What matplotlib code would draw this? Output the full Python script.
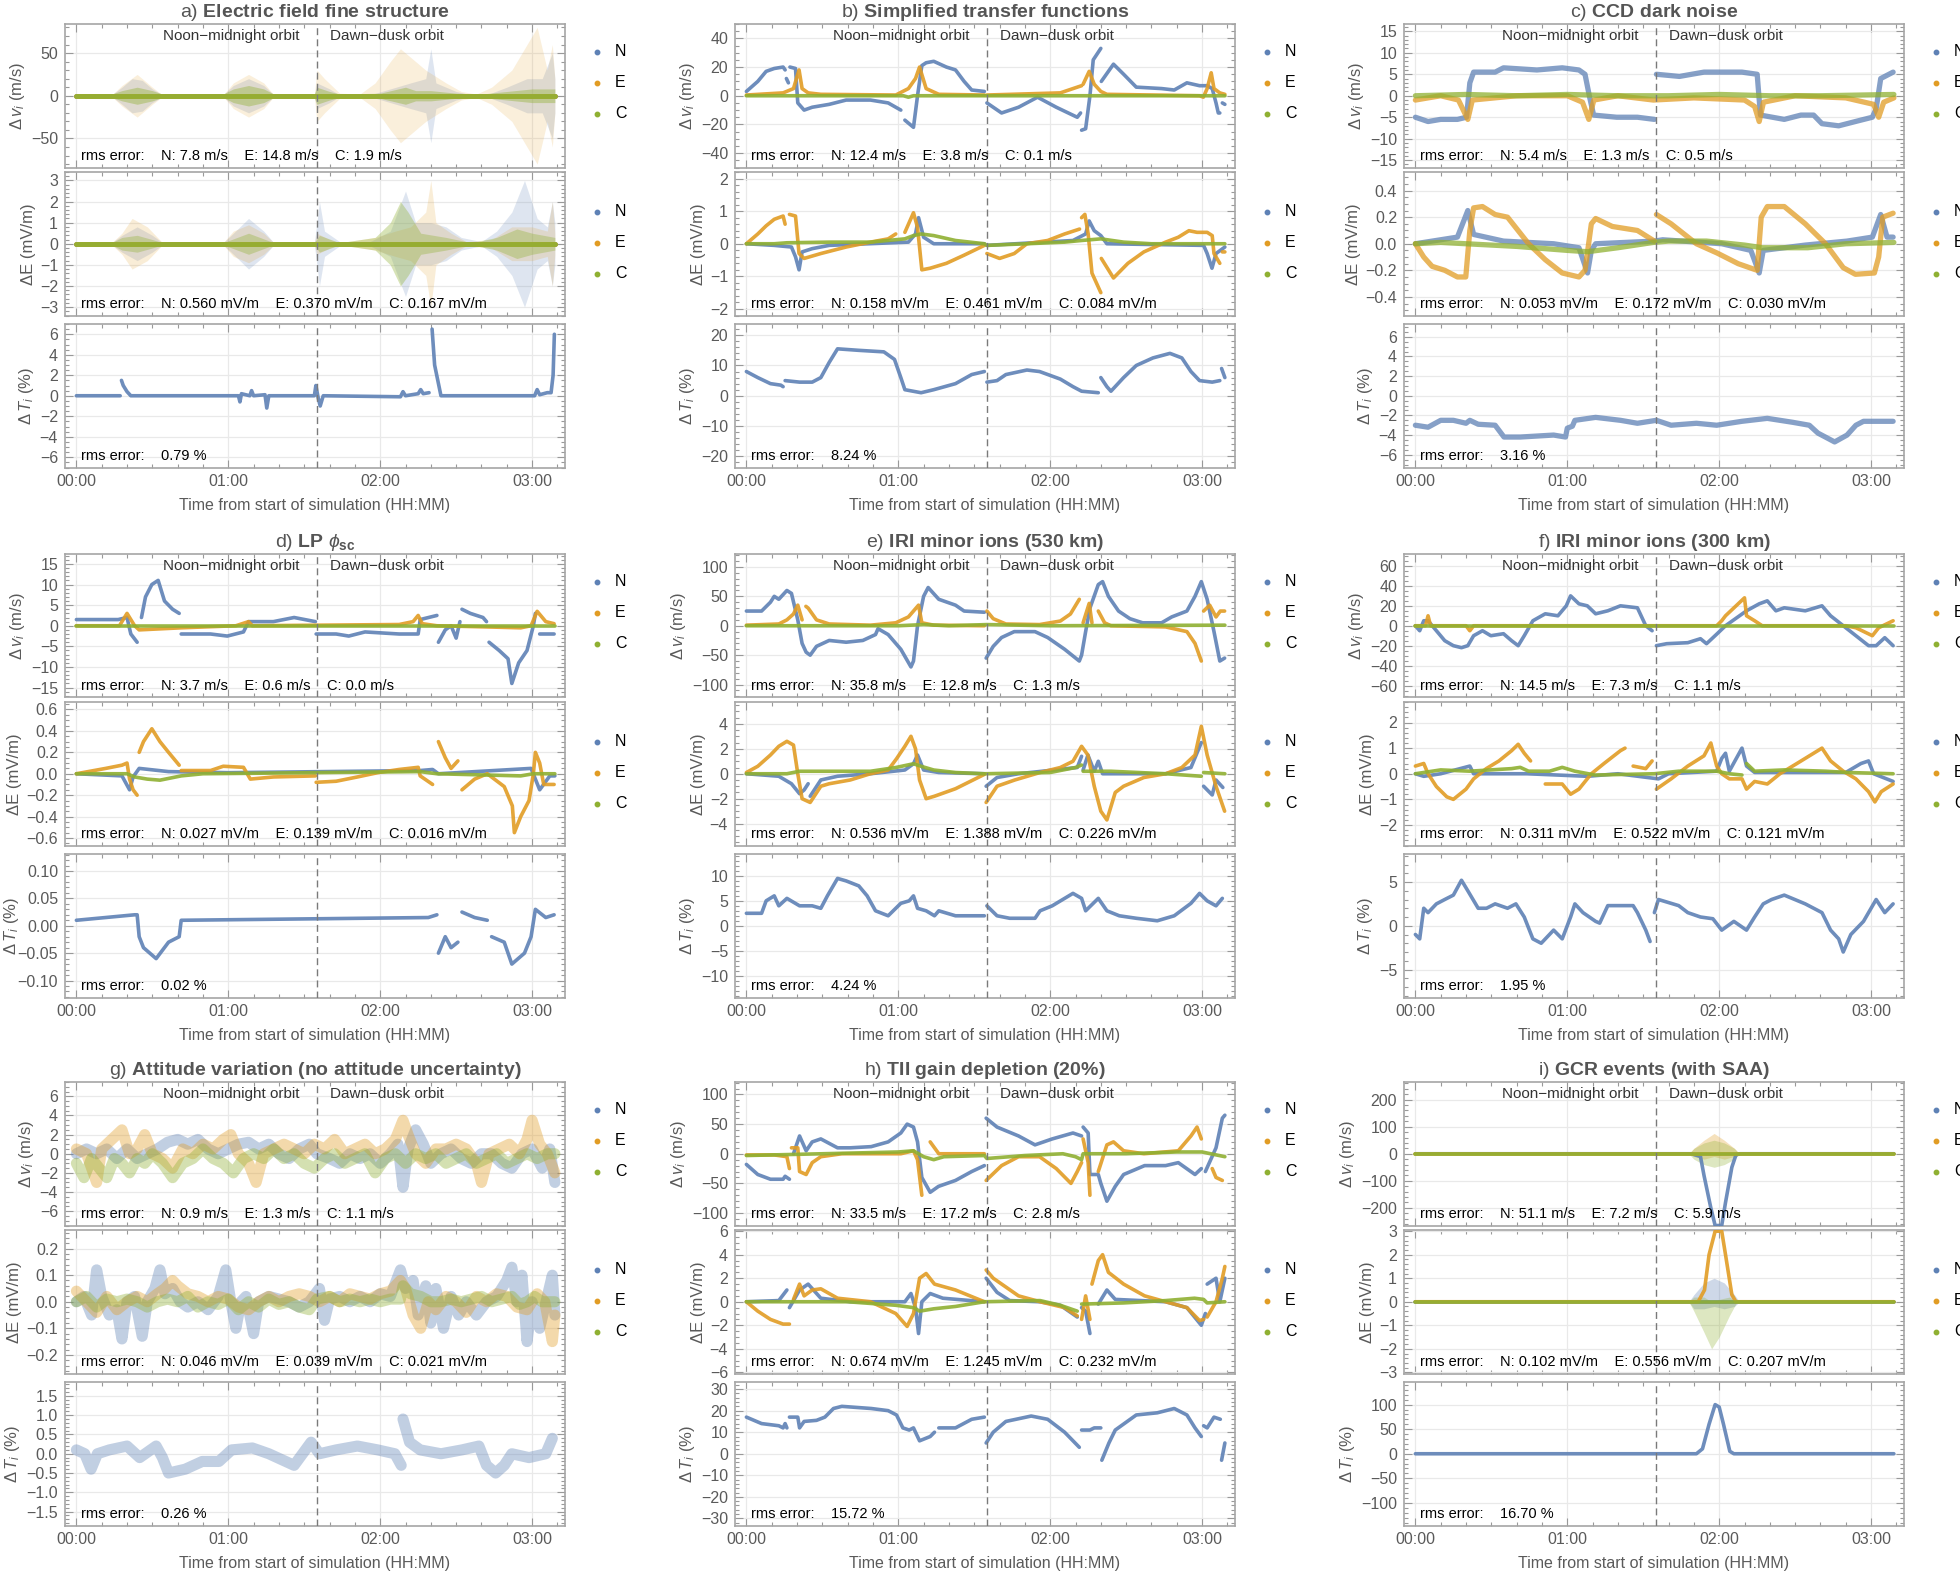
import numpy as np
import matplotlib
matplotlib.use("Agg")
import matplotlib.pyplot as plt
from matplotlib.ticker import MultipleLocator, FuncFormatter

plt.rcParams["font.family"] = ["Liberation Sans", "DejaVu Sans"]
plt.rcParams["mathtext.fontset"] = "custom"
plt.rcParams["mathtext.rm"] = "Liberation Sans"
plt.rcParams["mathtext.it"] = "Liberation Sans:italic"
plt.rcParams["mathtext.bf"] = "Liberation Sans:bold"

nan = np.nan
BLUE, ORANGE, GREEN = "#5e81b5", "#e19c24", "#8fb032"
DASH_T = 95  # switch from noon-midnight to dawn-dusk orbit (minutes)

# ---------------- data: (minute, value), nan = gap ----------------
# a) Electric field fine structure (noise envelopes: (minute, half width))
a_v_N_env = [(0, 1), (14, 1), (18, 10), (22, 20), (26, 18), (30, 8), (34, 1), (58, 1), (62, 12), (68, 20), (74, 12),
             (78, 1), (94, 1), (95, 15), (100, 8), (104, 1), (116, 1), (124, 8), (132, 15), (138, 20), (140, 55),
             (142, 15), (150, 5), (156, 1), (162, 1), (170, 10), (178, 20), (184, 20), (188, 50), (189, 20)]
a_v_E_env = [(0, 1), (14, 1), (18, 12), (24, 25), (30, 10), (34, 1), (58, 1), (62, 15), (68, 25), (74, 15), (78, 1),
             (94, 1), (95, 30), (98, 20), (104, 3), (112, 2), (118, 15), (124, 40), (128, 55), (132, 45), (138, 30),
             (146, 15), (152, 5), (158, 2), (164, 10), (172, 30), (178, 60), (182, 80), (186, 30), (188, 60), (189, 20)]
a_v_C_env = [(0, 2), (14, 2), (18, 6), (24, 10), (30, 6), (34, 2), (58, 2), (62, 8), (68, 12), (74, 8), (78, 2),
             (94, 2), (95, 10), (100, 5), (104, 2), (120, 3), (130, 10), (134, 6), (140, 6), (150, 3), (160, 2),
             (170, 5), (180, 8), (189, 8)]
a_E_N_env = [(0, .05), (14, .05), (18, .4), (24, .8), (30, .4), (34, .05), (58, .05), (62, .5), (68, 1.2), (74, .6),
             (78, .05), (94, .05), (95, 1), (96, 2), (98, .6), (104, .1), (116, .1), (124, .6), (130, 2.5), (134, 1),
             (140, 1), (146, .8), (152, .3), (160, .1), (166, .6), (172, 1.5), (177, 3), (182, 1.2), (186, .8),
             (188, 2), (189, 1)]
a_E_E_env = [(0, .05), (14, .05), (18, .5), (22, 1.2), (28, .8), (34, .05), (58, .05), (62, .6), (68, .9), (74, .5),
             (78, .05), (94, .05), (95, .5), (100, .2), (104, .05), (118, .3), (126, .6), (132, .8), (138, 1.5),
             (140, 3), (142, 1), (148, .5), (154, .1), (164, .2), (172, .8), (180, .8), (186, .6), (188, 2), (189, .5)]
a_E_C_env = [(0, .05), (14, .05), (18, .3), (24, .4), (30, .2), (34, .05), (58, .05), (68, .5), (78, .05), (94, .05),
             (96, .4), (104, .05), (118, .3), (124, 1), (128, 2), (131, 1.5), (136, .5), (146, .3), (156, .05),
             (166, .3), (174, .7), (180, .5), (189, .3)]
a_zero = [(0, 0), (189, 0)]
a_T_N = [(0, 0), (17.3, 0), (17.3, nan), (17.8, 1.5), (18.5, 1.0), (20, 0.4), (21.5, 0), (64, 0), (64.6, -0.6),
         (65.2, 0.2), (68.5, 0), (69.2, 0.5), (70, 0), (74.5, 0.1), (75.2, -1.2), (76, 0), (94, 0), (94.6, 1.0),
         (95.5, -0.2), (96.3, -1.0), (97.5, 0), (128, -0.1), (129, 0.4), (130, 0), (135, 0.2), (136, 0.6), (137, 0.2),
         (139.3, 0.3), (139.3, nan), (140.5, 6.5), (141.5, 3), (142.5, 1.8), (144, 0), (181, 0), (182, 0.6),
         (183, 0.1), (186, 0.3), (187.5, 0.3), (188.3, 2), (188.8, 6)]

# b) Simplified transfer functions
b_v_N = [(0, 3), (4.5, 10), (7.8, 17), (11, 19), (14.5, 20), (15.3, 18), (15.6, nan), (15.8, 12), (16.6, 9),
         (17, nan), (17.2, 20), (19.4, 19), (20.3, -5), (22.8, -10), (26, -8), (32.7, -6), (39.4, -3), (49, -3),
         (56, -5), (59, -8), (61, -10), (61.5, nan), (62.6, -17), (66, -22), (67.6, 0), (69.3, 21), (71, 23),
         (74, 24), (79, 20), (82.6, 18), (86, 10), (89, 4), (94, 3), (94.5, nan), (95, -5), (100.8, -12),
         (107.5, -8), (115, -1), (122.4, -8), (130.7, -15), (132, -12), (132.2, nan), (132.4, -24), (134, -23),
         (135.7, 0), (137, 25), (140, 33), (140.1, nan), (140.2, 10), (145, 22), (149, 15), (154, 6), (164, 5),
         (169, 4), (174, 9), (179, 7), (182, 7), (184, 5), (185.5, -5), (186.4, -12), (187, -12), (187.4, nan),
         (188, -5), (189, -6)]
b_v_E = [(0, 0.5), (14.5, 2), (18.6, 5), (20.8, 18), (22, 5), (24.4, 2), (29.4, 1), (59, 0.5), (64, 5), (66.8, 12),
         (68.4, 20), (71, 5), (76, 1), (94, 0.5), (94.5, nan), (95, 0.5), (124, 2), (130.7, 6), (132.4, 7),
         (132.6, nan), (133, 8), (135.4, 17), (137.4, 8), (140, 3), (142.4, 1), (179, 0), (180.5, -1), (182, 5),
         (183.6, 16), (184.7, 5), (187, 2), (189, 1)]
b_v_C = [(0, 0), (62, 0), (64, -1), (66, 0), (189, 0)]
b_E_N = [(0, 0), (11, -0.05), (17.8, -0.1), (19.4, -0.4), (20.8, -0.8), (22, -0.25), (26, -0.15), (32.7, -0.05),
         (64, 0.05), (66.8, 0.3), (68, 0.8), (70, 0.2), (74, 0), (94, 0), (94.5, nan), (95, -0.05), (129, 0.1),
         (134, 0.3), (135.4, 0.7), (137.4, 0.4), (140, 0.25), (142.4, 0), (180.6, -0.05), (182, -0.3),
         (183.9, -0.75), (185.5, -0.3), (189, -0.1)]
b_E_E = [(0, 0), (4.5, 0.3), (7.8, 0.55), (11, 0.75), (14.5, 0.85), (15.3, 0.6), (15.6, nan), (16, 0.55),
         (16.6, nan), (17, 0.9), (19.4, 0.85), (20.8, -0.3), (22.8, -0.45), (29.4, -0.3), (39.4, -0.1), (49, 0.05),
         (56, 0.15), (59, 0.3), (60, nan), (62.6, 0.35), (66, 0.95), (67.6, 0.5), (69.3, -0.8), (72.6, -0.75),
         (79, -0.6), (86, -0.35), (94, -0.05), (94.5, nan), (95, -0.3), (100, -0.45), (105.8, -0.3), (110.8, 0),
         (119, 0.1), (125.7, 0.3), (131.6, 0.45), (132, nan), (132.4, 0.8), (133.7, 0.9), (135, 0.3),
         (136.5, -0.9), (140, -1.5), (140.1, nan), (140.2, -0.45), (145, -1.05), (150.7, -0.6), (157, -0.25),
         (165.6, 0.05), (170.6, 0.2), (174.8, 0.4), (178, 0.35), (182, 0.35), (184, 0.25), (184.7, -0.3),
         (187, -0.6), (187.4, nan), (188, -0.25), (189, -0.25)]
b_E_C = [(0, 0), (11, 0), (16, 0.03), (32.7, 0.05), (49, 0.05), (62.6, 0.15), (66, 0.25), (69, 0.3), (74, 0.25),
         (82.6, 0.1), (94, 0), (95, -0.05), (110.8, 0), (125.7, 0.05), (132.4, 0.1), (140, 0.15), (149, 0.05),
         (160, 0), (189, 0)]
b_T_N = [(0, 8), (4.5, 6), (9.5, 4), (13.6, 3.5), (14.5, 3), (14.8, nan), (15.3, 5), (21, 4.5), (26, 4.5),
         (29.4, 6), (32.7, 11), (36, 15.5), (44.4, 15), (54.3, 14.5), (58.5, 12), (61, 6), (62.6, 2), (69, 1),
         (74, 2), (82.6, 4), (89, 7), (94, 8), (94.5, nan), (95, 4.5), (99, 5), (102.5, 7), (110.8, 8.5),
         (115.8, 8), (124, 5.5), (129, 3), (132.4, 1.5), (139, 1), (139.5, nan), (140, 6), (142.4, 3), (144, 1.5),
         (149, 6), (154, 10), (160.6, 12.5), (167.3, 14), (172, 12.5), (175.6, 8), (179, 5), (184, 4.5), (187, 5),
         (187.3, nan), (187.7, 9), (189, 6)]

# c) CCD dark noise
c_v_N = [(0, -5), (5, -6), (10, -5.5), (16.6, -5.5), (20.2, -5), (21.5, 3), (23, 5.5), (31.5, 5.5), (34.8, 6.5),
         (48, 6), (58, 6.5), (64.6, 6), (67, 5), (68.7, 0), (70.4, -4.5), (79.5, -5), (87.7, -5), (94.4, -5.5),
         (94.8, nan), (95.2, 5), (104.3, 4.5), (114, 5.5), (129, 5.5), (135, 5), (136.3, -4.5), (145.7, -5.5),
         (152.3, -4.5), (157.3, -4.5), (160.6, -6.5), (167.2, -7), (173.8, -6), (180.5, -5), (182, -3), (183.8, 4),
         (188.7, 5.5)]
c_v_E = [(0, -1), (10, 0), (17, -1), (20.7, -5.5), (22.5, -1), (40, 0), (60, 0), (66, -1.5), (68.5, -5.5),
         (70.5, -1), (80, 0), (94, -1), (110, -0.5), (130, -1), (134, -2.5), (135.8, -6), (137.5, -1.5), (150, 0),
         (170, -0.5), (181, -2), (183, -5), (185, -1.5), (189, -0.5)]
c_v_C = [(0, 0), (20, 0.3), (40, 0), (60, 0.3), (80, 0), (100, 0), (120, 0.3), (140, 0), (160, 0), (189, 0.3)]
c_E_N = [(0, 0), (16.6, 0.05), (20.7, 0.25), (23, 0.07), (34.8, 0.02), (54.6, 0), (64.6, -0.03), (68, -0.22),
         (69.5, -0.05), (71.2, 0), (94.4, 0.02), (97.7, 0.03), (121, 0), (132.5, -0.05), (135.8, -0.22),
         (137.4, -0.05), (154, -0.01), (170.5, 0.02), (180.5, 0.05), (183.8, 0.22), (186.3, 0.05), (188.7, 0.05)]
c_E_E = [(0, 0), (3.3, -0.1), (6.6, -0.17), (11.6, -0.2), (16.6, -0.25), (19.9, -0.25), (21.5, 0.1), (23, 0.27),
         (26.5, 0.28), (31.5, 0.22), (36.4, 0.2), (44.7, 0), (51.3, -0.12), (58, -0.22), (64.6, -0.25), (67, -0.2),
         (69.5, 0.15), (71.2, 0.19), (77.8, 0.13), (87.7, 0.1), (94.4, 0.02), (94.8, nan), (95.2, 0.22),
         (101, 0.15), (111, 0), (119.2, -0.07), (127.5, -0.15), (135, -0.2), (136.6, 0.2), (139, 0.28),
         (145.7, 0.28), (154, 0.15), (162, 0), (169, -0.18), (173.8, -0.23), (181.3, -0.22), (183, -0.1),
         (184.6, 0.2), (188.7, 0.23)]
c_E_C = [(0, 0), (10, 0.01), (20, 0), (40, -0.02), (60, -0.05), (68, -0.06), (80, -0.03), (94, 0.01), (100, 0.02),
         (115, 0.02), (130, -0.01), (137, -0.03), (155, -0.03), (170, 0), (189, 0.01)]
c_T_N = [(0, -3), (5, -3.2), (10, -2.5), (15, -2.5), (20, -2.8), (21.5, -2.5), (24.8, -2.9), (31.5, -3), (35, -4.2),
         (41.4, -4.2), (54.6, -4), (59.3, -4.2), (60, -3.3), (62, -3.1), (63, -2.5), (71.2, -2.2), (81, -2.5),
         (87.7, -2.8), (95.2, -2.5), (101, -3), (111, -2.8), (119, -3), (129, -2.6), (139, -2.3), (149, -2.7),
         (155.6, -3), (159, -3.8), (165.6, -4.7), (170.5, -4), (174, -3), (177, -2.6), (188.7, -2.6)]

# d) LP phi_sc
d_v_N = [(0, 1.5), (16.5, 1.5), (20, 2), (21.5, -2), (24, -4), (24.5, nan), (25.7, 2), (27.3, 7), (29.8, 10),
         (32.3, 11), (34.8, 6), (38, 4), (40.6, 3), (41, nan), (41.4, -2), (53, -2), (59.6, -2.5), (66, -1.5),
         (68, 1), (77.8, 1), (86, 2), (94.4, 1), (94.6, nan), (94.7, -2), (102.6, -2), (107.6, -2.5), (114, -1.5),
         (127.5, -2), (135, -2), (135.8, 1.5), (142.4, 2.5), (142.7, nan), (143, -4), (145.7, -1), (148, 0),
         (150, -3), (151.5, 1), (152, nan), (152.3, 4), (155.6, 3), (160.6, 2), (162, 1), (162.5, nan), (163, -4),
         (167, -6), (170.5, -8), (172, -14), (174.7, -9), (178, -6), (180.5, 0), (181.3, 3), (182, nan),
         (183, -2), (188.7, -2)]
d_v_E = [(0, 0), (17, 0), (20, 3), (23, 0), (24.8, -1), (41.4, -0.5), (63, 0), (68, 1), (69.5, 0), (127.5, 0.3),
         (133, 1), (135, 2.5), (136.6, 0.5), (142.4, 0), (163, -0.3), (175.5, -0.5), (179.6, 0), (182, 3.5),
         (185.4, 1), (188.7, 0.5)]
d_v_C = [(0, 0), (189, 0)]
d_E_N = [(0, 0), (18, -0.02), (21, -0.15), (22.4, -0.03), (24.8, 0.05), (36.4, 0.02), (60, 0.01), (135.8, 0.03),
         (140.7, 0.04), (143, 0), (179.6, 0.05), (183, -0.15), (187, -0.02), (189, -0.02)]
d_E_E = [(0, 0), (11.6, 0.05), (18, 0.08), (20, 0.1), (21, -0.05), (22.4, -0.15), (24, -0.2), (24.4, nan),
         (24.8, 0.2), (26.5, 0.3), (29.8, 0.42), (33, 0.3), (36.4, 0.2), (40.6, 0.08), (41, nan), (41.4, 0.03),
         (53, 0.03), (58, 0.07), (66, 0.06), (68.7, -0.05), (77.8, -0.03), (94.4, -0.02), (94.6, nan),
         (94.7, -0.08), (102.6, -0.07), (111, -0.03), (119, 0.01), (127.5, 0.04), (135, 0.06), (135.8, -0.02),
         (140.7, -0.1), (142, nan), (143, 0.3), (145.7, 0.15), (148, 0.05), (150.7, 0.12), (151.5, nan),
         (152.3, -0.15), (157.3, -0.05), (162.3, 0), (169, -0.12), (172.2, -0.3), (173, -0.55), (175.5, -0.4),
         (178.8, -0.25), (180.5, 0), (181.3, 0.2), (183, 0.1), (184.6, -0.1), (188.7, -0.1)]
d_E_C = [(0, 0), (20, 0), (23, -0.03), (28, -0.05), (33, -0.06), (41.4, -0.02), (50, 0), (135.8, 0.02),
         (142.4, 0), (175.5, -0.02), (180.5, 0), (189, 0)]
d_T_N = [(0, 0.01), (23, 0.02), (24, 0.02), (24.8, -0.02), (26.5, -0.04), (31.5, -0.06), (36.4, -0.03),
         (40.6, -0.02), (41.4, 0.01), (139, 0.015), (142.4, 0.02), (142.7, nan), (143, -0.05), (145.7, -0.02),
         (148, -0.04), (150.7, -0.03), (151.5, nan), (152.3, 0.025), (157.3, 0.015), (162.3, 0.01), (163, nan),
         (164, -0.02), (169, -0.03), (172, -0.07), (177, -0.05), (179.6, -0.02), (181.3, 0.03), (185.4, 0.015),
         (188.7, 0.02)]

# e) IRI minor ions (530 km)
e_v_N = [(0, 25), (6, 25), (9.5, 40), (11, 50), (12.8, 45), (16, 60), (17.8, 55), (20.3, 10), (22, -30),
         (23.6, -45), (25.2, -50), (27.7, -35), (32.7, -25), (39.4, -28), (46, -25), (51, -15), (52, -5),
         (56, -15), (61, -40), (65, -70), (66, -60), (67.6, 0), (70, 50), (71.8, 65), (76, 45), (82.6, 35),
         (86, 25), (94, 23), (94.4, nan), (94.7, -55), (97.5, -35), (100.8, -20), (105.8, -10), (114, -10),
         (119, -20), (125.7, -40), (131.5, -60), (132.4, -50), (134, -10), (135.7, 30), (139, 70), (140.7, 75),
         (143, 50), (147, 25), (151.5, 12), (156.5, 5), (164, 5), (168, 15), (174, 25), (177.2, 50), (179.7, 75),
         (182, 45), (184.7, -10), (187, -60), (188.9, -55)]
e_v_E = [(0, 1), (12.8, 3), (16, 10), (18.6, 20), (20.3, 35), (22, 10), (22.5, nan), (23.5, 33), (24.4, 30),
         (27.7, 10), (32.7, 3), (49, 1), (59, 5), (64, 15), (68, 35), (69.3, 5), (74, 1), (94, 0), (94.4, nan),
         (95, 25), (97.5, 12), (102.5, 3), (115.8, 2), (124, 8), (128, 20), (131.5, 45), (132, nan), (133, 5),
         (135.4, 38), (136.5, 5), (137, nan), (139, 25), (141.5, 5), (144, 0), (165.6, -2), (174, -10),
         (177.2, -30), (179.7, -60), (180, nan), (180.6, 25), (183, 35), (185.5, 15), (187.2, 25), (188.9, 25)]
e_v_C = [(0, 0), (60, 0), (70, 2), (80, 0), (95, 2), (120, 0), (189, 1)]
e_E_N = [(0, 0), (12.8, -0.2), (17.8, -0.8), (21, -1.6), (22.8, -1.3), (24.4, -0.8), (24.8, nan), (25.2, -1.8),
         (29.4, -0.5), (36, -0.2), (49, 0), (62.6, 0.3), (66, 0.8), (67.6, 1.5), (70, 0.3), (76, 0.1), (94, 0),
         (94.4, nan), (94.7, -1), (99, -0.3), (107.5, 0), (130.7, 0.5), (132.4, 1.4), (132.7, nan), (133, 0.3),
         (134.9, 1.5), (137.4, 0.2), (139, 1), (140.7, 0), (165.6, 0), (175.6, 0.5), (179.7, 2.5), (180.2, nan),
         (180.6, -1), (184, -1.7), (185.5, -0.5), (188.2, -1.1)]
e_E_E = [(0, 0.1), (4.5, 0.6), (9.5, 1.5), (12.8, 2.2), (16, 2.6), (18.6, 2.3), (20.3, 0), (22, -2),
         (25.2, -2.3), (29.4, -1), (32.7, -0.8), (41, -0.5), (49, 0), (56, 0.3), (59.3, 1.2), (62.6, 2.2),
         (65, 3), (66.8, 2), (68.4, -0.5), (71, -2), (74.3, -1.8), (82.6, -1.2), (94, -0.05), (94.4, nan),
         (94.7, -2.3), (99, -1), (106, -0.5), (116, 0.1), (124, 0.5), (129, 1), (132.4, 2.2), (134.9, 1.5),
         (137.4, -1), (140, -3), (142.4, -3.7), (145.7, -1.5), (149, -1), (157, -0.3), (165.6, 0), (172, 0.5),
         (177.2, 1.5), (179.7, 3.8), (182, 1.5), (185.5, -1), (188.9, -3)]
e_E_C = [(0, 0), (16, 0), (21, 0.2), (49, 0.2), (59, 0.5), (66, 0.8), (69, 0.6), (74, 0.3), (82.6, 0.1), (94, 0),
         (120, 0.1), (130, 0.5), (132.4, 0.7), (132.7, nan), (133, 0.2), (144, 0.2), (165.6, 0), (179.7, -0.2),
         (180.2, nan), (180.6, 0.1), (189, 0)]
e_T_N = [(0, 2.5), (6, 2.5), (7.8, 5), (11, 6), (12.8, 4), (16, 5.5), (21, 4), (26, 4), (29.4, 3.5), (32, 6),
         (36, 9.5), (39.4, 9), (44.4, 8), (47.7, 6), (51, 3), (56, 2), (61, 4.5), (64.3, 5), (66, 6), (67.6, 3.5),
         (71, 3), (74.3, 2), (76, 3), (82.6, 2), (94, 2), (94.4, nan), (95, 4), (99, 2), (104, 1.5), (114, 1.5),
         (116, 3), (120.8, 4), (129, 6.5), (132.4, 5.5), (134, 3), (139, 5.5), (142.4, 3), (147.3, 2),
         (154, 1.5), (162.3, 1), (169, 2), (175.6, 4.5), (179, 6.5), (182, 5), (185.5, 4), (188, 5.5)]

# f) IRI minor ions (300 km)
f_v_N = [(0, 0), (1.7, -5), (3.3, 5), (5, 5), (8.3, -5), (11.6, -15), (15, -20), (18.2, -22), (20.7, -20),
         (23, -10), (26.5, -5), (29.8, -10), (34.8, -8), (38, -15), (40.6, -20), (43, -10), (46.4, 5),
         (51.3, 12), (56.3, 10), (59.6, 20), (61.3, 30), (64.6, 22), (67.9, 20), (71.2, 12), (76, 15), (81, 20),
         (87.7, 18), (91, 0), (93.5, -5), (94.4, nan), (95.2, -20), (99.3, -18), (107.6, -17), (112.6, -13),
         (115, -18), (119.2, -8), (122.5, 0), (130.8, 15), (135.8, 22), (139, 25), (142.4, 15), (145.7, 18),
         (154, 15), (160.6, 20), (164, 10), (169, 0), (174, -10), (179, -20), (182, -20), (185.4, -12),
         (188.7, -20)]
f_v_E = [(0, 0), (4, 0), (5, 10), (6, 0), (20, 0), (21.5, -5), (23, 0), (119, 0), (121, 5), (122.5, 10), (130, 28),
         (130.8, 10), (134, 5), (137, 0), (170, 0), (174, -2), (180.5, -10), (183, -2), (188.7, 5)]
f_v_C = [(0, 0), (189, 0)]
f_E_N = [(0, 0), (3.3, -0.1), (10, 0), (21.5, 0.3), (23, 0), (44, 0), (68, -0.1), (80, 0), (96, -0.2), (100, 0),
         (119, 0.1), (121, 0.6), (122.5, 0.8), (124, 0.1), (129, 1.0), (130.8, 0.3), (134, 0.05), (170, 0.05),
         (176, 0.4), (179, 0.5), (181, 0), (188.7, -0.3)]
f_E_E = [(0, 0.3), (3.3, 0.4), (5, 0), (8.3, -0.5), (12.4, -0.9), (15, -1.0), (20, -0.6), (23, -0.2), (28, 0.2),
         (33, 0.5), (38, 0.9), (40.6, 1.15), (43, 0.8), (45.5, 0.5), (46, nan), (51.3, -0.4), (58, -0.4),
         (61.3, -0.8), (64.6, -0.6), (69.5, 0), (74.5, 0.4), (81, 0.9), (82.8, 1), (83.5, nan), (86, 0.3),
         (91, 0.2), (93.5, 0.5), (94.4, nan), (95.2, -0.6), (101, -0.2), (107.6, 0.3), (114, 0.7), (116.7, 1.2),
         (119, 0.3), (121, 0), (124, -0.2), (129, -0.2), (130.8, -0.6), (134, -0.3), (139, -0.4), (144, 0),
         (150.7, 0.4), (157.3, 0.8), (160.6, 1.0), (164, 0.5), (169, 0.1), (174, -0.2), (179, -0.7),
         (181.5, -1.1), (184, -0.7), (188.7, -0.4)]
f_E_C = [(0, 0), (10, 0.15), (21.5, 0.1), (38, 0.2), (41.4, 0.25), (44.7, 0.1), (53, 0.1), (58, 0.25), (63, 0.1),
         (71, -0.05), (94.4, 0), (104, 0.1), (119, 0.1), (124, 0), (129, -0.05), (130, nan), (130.8, 0.4),
         (134, 0.1), (145.7, 0.15), (162, 0.1), (170.5, 0.05), (188.7, 0)]
f_T_N = [(0, -1), (1.7, -1.5), (3.3, 2), (5, 1.5), (8.3, 2.5), (11.6, 3), (15, 3.5), (18.2, 5.2), (20.7, 4),
         (24.8, 2), (28.1, 2), (31.5, 2.5), (36.4, 2), (39.7, 2.5), (43, 1), (46.4, -1.5), (49.7, -2),
         (54.6, -0.5), (58, -1.5), (61.3, 1), (63, 2.5), (66.2, 1.5), (71.2, 0.5), (72.8, 0.3), (76, 2.3),
         (86, 2.3), (87.7, 1.5), (91, -0.5), (92.7, -1.8), (93.5, nan), (94.4, 1.5), (96, 3), (104, 2.3),
         (107.6, 1.5), (112.6, 1), (117.5, 0.8), (121, -0.5), (125.8, 0.5), (130.8, -0.5), (134, 1),
         (137.4, 2.5), (140.7, 3), (145.7, 3.5), (154, 2.5), (160.6, 1.5), (164, -0.5), (167.2, -1.5),
         (169, -3), (172, -1), (177, 0.5), (182, 3), (185.4, 1.5), (188.7, 2.5)]

# g) Attitude variation (no attitude uncertainty)
g_v_N = [(0, 0), (4, 0.5), (8, 0), (12, 0.5), (16, -0.5), (20, 0.5), (24, -0.5), (28, 0), (32, 0.5), (36, 1.2),
         (40, 1.5), (44, 1), (48, 1.5), (52, 0.5), (56, 0), (60, 0.5), (64, 1), (68, 1.2), (72, 0.5), (76, 1),
         (80, 0), (84, -0.5), (88, 0.5), (92, 1), (95, 0), (100, -0.5), (104, -1), (108, 0), (112, -0.5), (116, 0),
         (120, -1), (124, 0), (127, 1), (129, -3.5), (131, 0.5), (134, 2.5), (137, 1), (140, -1), (144, 0),
         (148, 0.5), (152, -0.5), (156, -1), (160, 0), (164, 0), (168, -1), (172, -1.5), (176, 0), (180, 0.5),
         (184, -1.5), (187, 0.5), (189, -3)]
g_v_E = [(0, 0.5), (4, 0), (8, -3), (10, 0.5), (14, 1.5), (18, 2.5), (21, 0), (24, 0.5), (27, 2), (30, 0),
         (34, -0.5), (38, -1.5), (42, 0.5), (46, 0), (50, 1), (54, 0.5), (58, 1.5), (61, 2), (64, 0), (68, -1),
         (71, -3), (74, 0), (78, 0.5), (82, 1), (86, 0.5), (90, 0), (94, 1), (98, 0.5), (102, 1.5), (106, 0),
         (110, 0.5), (114, 1), (118, 0), (122, 0.5), (126, 1.5), (129, 3.5), (131, 2), (134, 0), (138, -1),
         (142, 0.5), (146, 0.5), (150, 1), (154, 0.5), (158, -1), (160, -3), (163, 0), (167, 0.5), (171, 1),
         (175, 0), (178, 1.5), (180, 3.5), (183, 1), (186, 0), (189, -2)]
g_v_C = [(0, -1), (3, -2.5), (6, -0.5), (9, -1.5), (12, -2.5), (15, -0.5), (18, -1), (21, -2), (24, -0.5),
         (27, -1), (30, 0), (34, -1), (38, -2.5), (42, -1), (46, -0.5), (50, 0.5), (54, -0.5), (58, -1), (62, -2),
         (66, -0.5), (70, 0), (74, -0.5), (78, 0.5), (82, -0.5), (86, 0), (90, -1), (94, -1.5), (98, -0.5),
         (102, 0), (106, -1), (110, -0.5), (114, 0), (118, -2), (122, -0.5), (126, 0), (130, -1), (134, 0),
         (138, -0.5), (142, 0), (146, -1), (150, -0.5), (154, 0), (158, -1), (162, -0.5), (166, 0), (170, -1),
         (174, -0.5), (178, 0), (182, -0.5), (186, 0), (189, 0)]
g_E_N = [(0, 0), (3, 0.02), (6, -0.05), (8, 0.12), (10, 0.02), (13, -0.05), (16, -0.03), (18, -0.14), (20, 0),
         (23, 0.02), (26, -0.13), (28, 0), (31, 0.05), (33, 0.12), (35, 0.03), (38, 0.05), (41, 0), (44, -0.02),
         (48, 0), (52, -0.03), (56, 0.02), (59, 0.12), (61, 0), (63, -0.1), (65, 0), (67, 0.02), (70, -0.12),
         (72, 0), (76, 0.02), (80, 0.01), (84, 0), (88, -0.02), (92, 0), (96, 0.05), (98, -0.07), (100, 0.01),
         (104, 0.02), (108, 0), (112, 0.02), (116, 0), (120, 0.03), (124, 0.02), (128, 0.12), (130, 0.05),
         (133, 0.08), (135, -0.05), (138, 0.06), (140, -0.08), (142, 0.05), (145, -0.1), (148, 0.02), (151, -0.05),
         (154, 0), (158, -0.05), (162, 0), (166, 0.02), (170, 0.08), (172, 0.13), (174, 0), (176, 0.1),
         (178, -0.15), (180, 0), (183, -0.1), (186, 0.02), (188, 0.1), (189, -0.05)]
g_E_E = [(0, 0.04), (4, 0), (8, -0.04), (12, 0.02), (16, -0.03), (20, 0), (24, 0.02), (28, 0), (32, 0.03),
         (35, 0.05), (38, 0.08), (40, 0.06), (44, 0.03), (48, 0.02), (52, 0), (56, 0.02), (60, 0.01), (64, -0.02),
         (68, -0.03), (72, 0), (76, 0.02), (80, 0), (84, 0.02), (88, 0.03), (92, 0.02), (96, 0), (100, 0.02),
         (104, 0), (108, 0.03), (112, 0.02), (116, 0.01), (120, 0.03), (124, 0.04), (128, 0.08), (130, 0.05),
         (133, -0.05), (136, -0.1), (139, 0), (142, -0.03), (146, 0.02), (150, 0), (154, -0.04), (158, 0.02),
         (162, 0), (166, 0.03), (170, 0.02), (174, -0.02), (178, -0.03), (182, 0.03), (185, 0), (188, -0.15),
         (189, -0.05)]
g_E_C = [(0, 0), (4, 0.02), (8, -0.02), (12, 0.01), (16, 0), (20, 0.01), (24, 0), (28, -0.02), (32, 0),
         (36, 0.01), (40, 0), (44, 0.02), (48, -0.02), (52, 0), (56, -0.01), (60, 0.01), (64, -0.03), (68, 0),
         (72, -0.02), (76, 0.01), (80, -0.01), (84, 0), (88, -0.02), (92, -0.03), (95, 0.01), (100, 0.02),
         (104, 0), (108, 0.01), (112, 0), (116, 0.01), (120, 0), (124, 0.01), (128, 0.01), (129, 0.06),
         (132, 0.03), (136, 0.02), (140, 0), (144, 0), (148, 0.01), (152, 0), (156, 0.01), (160, 0.02), (164, 0),
         (168, 0.01), (172, 0.02), (175, -0.01), (178, 0), (181, 0.02), (184, 0), (189, 0)]
g_T_N = [(0, 0.1), (3.3, 0), (5.8, -0.4), (8.3, 0), (13, 0.1), (20, 0.2), (25, -0.1), (31.5, 0.2), (34, -0.1),
         (36.4, -0.5), (43, -0.4), (49.7, -0.2), (56.3, -0.2), (61.3, 0.1), (69.5, 0.15), (76, 0), (86, -0.3),
         (92.7, 0.3), (96, 0), (102.6, 0.1), (111, 0.2), (119, 0.1), (125.8, 0), (128.3, -0.3), (128.6, nan),
         (129, 0.9), (131.6, 0.3), (135.8, 0.1), (144, 0), (152.3, 0.1), (159, 0.2), (162, -0.3), (165.6, -0.5),
         (169, -0.3), (172, 0), (178.8, -0.1), (185.4, 0), (188, 0.4)]

# h) TII gain depletion (20%)
h_v_N = [(0, -18), (4.5, -35), (9.5, -43), (14.5, -43), (15.3, -38), (17, -43), (17.5, nan), (18.6, 0), (21, 30),
         (23.6, 5), (26, 20), (29.4, 25), (36, 10), (41, 10), (49.3, 12), (56, 20), (61, 35), (63.5, 50),
         (66, 45), (67.6, 20), (69.3, -40), (72.6, -65), (75.9, -55), (82.6, -45), (89, -30), (94, -20),
         (94.4, nan), (94.7, 60), (99, 45), (107.5, 30), (114, 15), (120.8, 25), (129, 35), (132.4, 30),
         (132.7, nan), (133, 45), (135, 35), (135.7, -35), (139, -35), (140, -50), (142.4, -80), (145.7, -55),
         (149, -35), (157.3, -20), (165.6, -20), (170.6, -15), (177.2, -35), (179.7, -25), (180.5, nan),
         (181.3, -30), (185.5, 10), (188, 60), (189, 65)]
h_v_E = [(0, -2), (11, -2), (16, -5), (17, -25), (17.5, nan), (17.8, 10), (20.3, 10), (21, -30), (23.6, -35),
         (26, -15), (29.4, -5), (37.7, 0), (61, 0), (66, 5), (67.6, -10), (69.3, -70), (70, nan), (72.6, 20),
         (76, 0), (94, 0), (94.4, nan), (94.7, -45), (100.8, -20), (107.5, -5), (115.8, -5), (122.4, -25),
         (128.2, -50), (130.7, -30), (132.4, -15), (132.7, nan), (133, 25), (135, -15), (135.7, -70), (136.5, nan),
         (139, -30), (142.4, 15), (145, 20), (149, 5), (157, 0), (170.6, 5), (175.6, 30), (178, 45), (179.7, 25),
         (180.5, nan), (184, -25), (185.5, -40), (188, -45)]
h_v_C = [(0, -3), (30, 0), (60, 3), (66, 5), (70, -5), (74, -10), (78, -5), (94, -3), (95, -8), (110, -3),
         (125, 0), (130, -5), (132.4, -10), (133, 0), (150, 0), (170, 3), (180, 3), (189, -5)]
h_E_N = [(0, 0), (12.8, 0.1), (16, 1), (16.5, nan), (17, -0.5), (21, 1), (24.4, 1.5), (29.4, 0.3), (41, 0),
         (62.6, 0), (65, 0.7), (66.8, -0.5), (68, -2.7), (69.3, 0), (72.6, 0.7), (77.6, 0.3), (94, 0),
         (94.4, nan), (94.7, 2), (99, 0.8), (104, 0.1), (115.8, 0), (124, -0.3), (130.7, -1.3), (131.5, nan),
         (132.4, -0.5), (134, -0.8), (135.7, -2.7), (136.5, nan), (139, -0.2), (142.4, 1), (145.7, 0.2),
         (165.6, 0), (174, -0.5), (179.7, -2), (181.3, -1), (181.7, nan), (182, 1.5), (185.5, 2), (187, 0),
         (189, 2)]
h_E_E = [(0, 0), (4.5, -0.8), (9.5, -1.5), (14.5, -1.9), (17, -1.9), (17.5, nan), (18.6, 0.2), (21, 1.5),
         (22.8, 0.5), (26, 1), (29.4, 1.1), (36, 0.3), (49, 0), (59, -1), (63.5, -2.1), (66, -1), (68.4, 2),
         (71, 2.4), (74.3, 1.5), (82.6, 1), (94, 0), (94.4, nan), (94.7, 2.7), (97.5, 2), (107.5, 0.5), (116, 0),
         (125.7, -0.5), (130.7, -1.2), (131.5, nan), (132.4, -1.5), (134, 0.5), (135.7, -1.5), (136, nan),
         (136.5, 1.5), (139, 3.5), (140.7, 4), (143, 2.5), (149, 1.5), (157.3, 0.5), (165.6, 0), (174, -0.5),
         (179, -1.6), (180.6, -1.5), (181.2, nan), (182, -1.3), (185.5, 0), (188, 2), (189, 3)]
h_E_C = [(0, 0), (40, 0), (59, -0.3), (66, -0.5), (68.4, -0.8), (74, -0.6), (82.6, -0.4), (94, 0), (116, 0.1),
         (124, -0.3), (130.7, -0.8), (131.5, nan), (132.4, -0.2), (149, -0.1), (165.6, 0.1), (177, 0.3),
         (180.6, 0.2), (182, -0.1), (189, 0)]
h_T_N = [(0, 17), (6, 14), (12.8, 13), (14.5, 12), (15.3, 14), (16, 12), (16.5, nan), (17, 17), (20.3, 17),
         (21, 12), (22.8, 15), (27.7, 15.5), (31, 17), (34.4, 21), (37.7, 22), (49.3, 21), (56, 20), (59.3, 18),
         (61.8, 12), (64.3, 11), (66, 12), (68.4, 6), (72.6, 8), (74.3, 10), (75, nan), (76, 12), (82.6, 12),
         (89, 16), (94, 17), (94.4, nan), (94.7, 5), (97.5, 10), (102.5, 15), (112.5, 17.5), (119, 16),
         (125.7, 10), (131.5, 3), (132, nan), (132.4, 11), (135.7, 11), (137.4, 12), (140, 12), (140.2, nan),
         (140.4, -3), (143.2, 5), (145.7, 11), (154, 18), (162.3, 19), (169, 21), (174, 18), (177.2, 12),
         (179.7, 8), (180.2, nan), (180.6, 13), (182, 12), (184.7, 17), (187.2, 16), (187.5, nan), (187.7, -3),
         (189, 5)]

# i) GCR events (with SAA); bands: (minute, low, high)
i_zero = [(0, 0), (189, 0)]
i_v_N = [(0, 0), (109, 0), (112.6, -10), (114, -80), (116.7, -200), (118.4, -265), (121, -265), (122.5, -180),
         (125, -50), (126.6, -5), (128, 0), (189, 0)]
i_v_E_band = [(108, 0, 0), (110, -10, 20), (114, -20, 50), (118, -10, 75), (122, -20, 50), (126, -10, 20), (128, 0, 0)]
i_v_C_band = [(108, 0, 0), (110, -20, 20), (114, -40, 40), (118, -50, 50), (122, -40, 40), (126, -20, 20), (128, 0, 0)]
i_E_E = [(0, 0), (111.7, 0), (114.2, 0.5), (116, 2), (118.4, 3), (121, 3), (122.5, 2), (125, 0.3), (126.6, 0),
         (189, 0)]
i_E_N_band = [(108, 0, 0), (110, -0.3, 0.3), (114, -0.3, 0.8), (118, -0.2, 1.0), (122, -0.3, 0.8), (126, -0.2, 0.3),
              (128, 0, 0)]
i_E_C_band = [(108, 0, 0), (110, -0.4, 0.2), (114, -1.3, 0.2), (117, -2, 0), (120, -1.5, 0.1), (124, -0.6, 0.2),
              (127, 0, 0)]
i_T_N = [(0, 0), (111, 0), (113.4, 10), (116, 60), (118.4, 100), (120, 95), (121.7, 60), (124.2, 5), (125.8, 0),
         (189, 0)]

RMS = {
    "a": ["N: 7.8 m/s    E: 14.8 m/s    C: 1.9 m/s", "N: 0.560 mV/m    E: 0.370 mV/m    C: 0.167 mV/m", "0.79 %"],
    "b": ["N: 12.4 m/s    E: 3.8 m/s    C: 0.1 m/s", "N: 0.158 mV/m    E: 0.461 mV/m    C: 0.084 mV/m", "8.24 %"],
    "c": ["N: 5.4 m/s    E: 1.3 m/s    C: 0.5 m/s", "N: 0.053 mV/m    E: 0.172 mV/m    C: 0.030 mV/m", "3.16 %"],
    "d": ["N: 3.7 m/s    E: 0.6 m/s    C: 0.0 m/s", "N: 0.027 mV/m    E: 0.139 mV/m    C: 0.016 mV/m", "0.02 %"],
    "e": ["N: 35.8 m/s    E: 12.8 m/s    C: 1.3 m/s", "N: 0.536 mV/m    E: 1.388 mV/m    C: 0.226 mV/m", "4.24 %"],
    "f": ["N: 14.5 m/s    E: 7.3 m/s    C: 1.1 m/s", "N: 0.311 mV/m    E: 0.522 mV/m    C: 0.121 mV/m", "1.95 %"],
    "g": ["N: 0.9 m/s    E: 1.3 m/s    C: 1.1 m/s", "N: 0.046 mV/m    E: 0.039 mV/m    C: 0.021 mV/m", "0.26 %"],
    "h": ["N: 33.5 m/s    E: 17.2 m/s    C: 2.8 m/s", "N: 0.674 mV/m    E: 1.245 mV/m    C: 0.232 mV/m", "15.72 %"],
    "i": ["N: 51.1 m/s    E: 7.2 m/s    C: 5.9 m/s", "N: 0.102 mV/m    E: 0.556 mV/m    C: 0.207 mV/m", "16.70 %"],
}
TITLES = {
    "a": r"a) $\mathbf{Electric\ field\ fine\ structure}$",
    "b": r"b) $\mathbf{Simplified\ transfer\ functions}$",
    "c": r"c) $\mathbf{CCD\ dark\ noise}$",
    "d": r"d) $\mathbf{LP}\ \phi_{\mathbf{sc}}$",
    "e": r"e) $\mathbf{IRI\ minor\ ions\ (530\ km)}$",
    "f": r"f) $\mathbf{IRI\ minor\ ions\ (300\ km)}$",
    "g": r"g) $\mathbf{Attitude\ variation\ (no\ attitude\ uncertainty)}$",
    "h": r"h) $\mathbf{TII\ gain\ depletion\ (20\%)}$",
    "i": r"i) $\mathbf{GCR\ events\ (with\ SAA)}$",
}
# (limit, major step, minor step, decimals) for dv, dE, dT
YAXES = {
    "a": [(84, 50, 10, 0), (3.4, 1, 0.2, 0), (7, 2, 0.5, 0)],
    "b": [(50, 20, 5, 0), (2.2, 1, 0.2, 0), (23.7, 10, 2, 0)],
    "c": [(16.7, 5, 1, 0), (0.54, 0.2, 0.05, 1), (7.3, 2, 0.5, 0)],
    "d": [(17.4, 5, 1, 0), (0.67, 0.2, 0.05, 1), (0.131, 0.05, 0.01, 2)],
    "e": [(122, 50, 10, 0), (5.75, 2, 0.5, 0), (14.4, 5, 1, 0)],
    "f": [(72, 20, 5, 0), (2.8, 1, 0.2, 0), (8.2, 5, 1, 0)],
    "g": [(7.5, 2, 0.5, 0), (0.27, 0.1, 0.02, 1), (1.86, 0.5, 0.1, 1)],
    "h": [(121, 50, 10, 0), (6.1, 2, 0.5, 0), (33.3, 10, 2, 0)],
    "i": [(265, 100, 20, 0), (3.05, 1, 0.2, 0), (146, 50, 10, 0)],
}

# ---------------- figure ----------------
W, H = 1960, 1571
fig = plt.figure(figsize=(W / 100, H / 100), dpi=100)
COL_LEFT = [65, 735, 1404]
ROW_TOP = [24, 554, 1082]
SUB_OFF = [0, 148, 300]
AX_W, AX_H = 500, 143.5
GRAY = "#5a5a5a"


def line(ax, pts, color, lw=2.6, alpha=0.9):
    t, v = zip(*pts)
    ax.plot(t, v, color=color, lw=lw, alpha=alpha, solid_capstyle="round", zorder=3)


def envelope(ax, pts, color, alpha=0.25):
    t, w = np.array(pts).T
    ax.fill_between(t, -w, w, color=color, alpha=alpha, lw=0, zorder=2)


def band(ax, pts, color, alpha=0.3):
    t, lo, hi = np.array(pts).T
    ax.fill_between(t, lo, hi, color=color, alpha=alpha, lw=0, zorder=2)


def hhmm(v, pos):
    return "%02d:%02d" % (int(v) // 60, int(v) % 60)


def style(ax, spec, last):
    lim, major, minor, dec = spec
    ax.set_xlim(-4.5, 193)
    ax.set_ylim(-lim, lim)
    ax.xaxis.set_major_locator(MultipleLocator(60))
    ax.xaxis.set_minor_locator(MultipleLocator(10))
    ax.yaxis.set_major_locator(MultipleLocator(major))
    ax.yaxis.set_minor_locator(MultipleLocator(minor))
    ax.yaxis.set_major_formatter(FuncFormatter(
        lambda v, p: ("%.*f" % (dec, 0.0 if abs(v) < 1e-9 else v)).replace("-", "\u2212")))
    if last:
        ax.xaxis.set_major_formatter(FuncFormatter(hhmm))
        ax.set_xlabel("Time from start of simulation (HH:MM)", fontsize=11.5, color=GRAY, labelpad=6)
    else:
        ax.set_xticklabels([])
    ax.tick_params(which="both", direction="in", top=True, right=True, color="#999999", width=0.8)
    ax.tick_params(which="major", length=6, labelsize=11.5, labelcolor=GRAY, pad=5)
    ax.tick_params(which="minor", length=3)
    ax.grid(True, which="major", color="#e9e9e9", lw=0.9, zorder=0)
    for s in ax.spines.values():
        s.set_color("#a6a6a6")
        s.set_linewidth(1.2)
    ax.axvline(DASH_T, color="#7a7a7a", lw=1.0, ls=(0, (5, 3)), zorder=4)


def legend(ax, ys):
    for y, lab, c in zip(ys, "NEC", (BLUE, ORANGE, GREEN)):
        ax.plot([1.064], [y], "o", ms=3.2, color=c, transform=ax.transAxes, clip_on=False)
        ax.text(1.1, y, lab, transform=ax.transAxes, fontsize=11.5, va="center", ha="left", color="black")


SERIES = {
    "a": [[], [], [(a_T_N, BLUE)]],
    "b": [[(b_v_N, BLUE), (b_v_E, ORANGE), (b_v_C, GREEN)], [(b_E_N, BLUE), (b_E_E, ORANGE), (b_E_C, GREEN)],
          [(b_T_N, BLUE)]],
    "c": [[(c_v_N, BLUE), (c_v_E, ORANGE), (c_v_C, GREEN)], [(c_E_N, BLUE), (c_E_E, ORANGE), (c_E_C, GREEN)],
          [(c_T_N, BLUE)]],
    "d": [[(d_v_N, BLUE), (d_v_E, ORANGE), (d_v_C, GREEN)], [(d_E_N, BLUE), (d_E_E, ORANGE), (d_E_C, GREEN)],
          [(d_T_N, BLUE)]],
    "e": [[(e_v_N, BLUE), (e_v_E, ORANGE), (e_v_C, GREEN)], [(e_E_N, BLUE), (e_E_E, ORANGE), (e_E_C, GREEN)],
          [(e_T_N, BLUE)]],
    "f": [[(f_v_N, BLUE), (f_v_E, ORANGE), (f_v_C, GREEN)], [(f_E_N, BLUE), (f_E_E, ORANGE), (f_E_C, GREEN)],
          [(f_T_N, BLUE)]],
    "g": [[(g_v_N, BLUE), (g_v_E, ORANGE), (g_v_C, GREEN)], [(g_E_N, BLUE), (g_E_E, ORANGE), (g_E_C, GREEN)],
          [(g_T_N, BLUE)]],
    "h": [[(h_v_N, BLUE), (h_v_E, ORANGE), (h_v_C, GREEN)], [(h_E_N, BLUE), (h_E_E, ORANGE), (h_E_C, GREEN)],
          [(h_T_N, BLUE)]],
    "i": [[(i_v_N, BLUE), (i_zero, ORANGE), (i_zero, GREEN)], [(i_zero, BLUE), (i_E_E, ORANGE), (i_zero, GREEN)],
          [(i_T_N, BLUE)]],
}
NOISY = {"c": (3.8, 0.75), "g": (8.0, 0.38)}
YLABELS = [r"$\Delta\,v_i$ (m/s)", "\u0394E (mV/m)", r"$\Delta\,T_i$ (%)"]

for k, key in enumerate("abcdefghi"):
    row, col = divmod(k, 3)
    axes = []
    for j in range(3):
        top = ROW_TOP[row] + SUB_OFF[j]
        ax = fig.add_axes([COL_LEFT[col] / W, 1 - (top + AX_H) / H, AX_W / W, AX_H / H])
        style(ax, YAXES[key][j], j == 2)
        ax.set_ylabel(YLABELS[j], fontsize=12, color=GRAY, labelpad=3)
        if key == "d" and j == 2:
            ax.yaxis.set_label_coords(-0.088, 0.5)
        lw, al = NOISY.get(key, (2.6, 0.9))
        for pts, c in SERIES[key][j]:
            line(ax, pts, c, lw=lw, alpha=al)
        ax.text(2, -YAXES[key][j][0] * 0.84, "rms error:    " + RMS[key][j], fontsize=10.5, color="black",
                va="center", ha="left", zorder=6)
        axes.append(ax)
    if key == "a":
        envelope(axes[0], a_v_N_env, BLUE, 0.2)
        envelope(axes[0], a_v_E_env, ORANGE, 0.16)
        envelope(axes[0], a_v_C_env, GREEN, 0.4)
        envelope(axes[1], a_E_N_env, BLUE, 0.2)
        envelope(axes[1], a_E_E_env, ORANGE, 0.18)
        envelope(axes[1], a_E_C_env, GREEN, 0.35)
        for ax in axes[:2]:
            for c in (BLUE, ORANGE, GREEN):
                line(ax, a_zero, c, lw=3.5)
    if key == "i":
        band(axes[0], i_v_E_band, ORANGE, 0.3)
        band(axes[0], i_v_C_band, GREEN, 0.3)
        band(axes[1], i_E_N_band, BLUE, 0.3)
        band(axes[1], i_E_C_band, GREEN, 0.3)
    axes[0].text(DASH_T - 7, YAXES[key][0][0] * 0.834, "Noon\u2212midnight orbit", fontsize=11, color="#333333",
                 ha="right", va="center", zorder=6)
    axes[0].text(DASH_T + 5, YAXES[key][0][0] * 0.834, "Dawn\u2212dusk orbit", fontsize=11, color="#333333",
                 ha="left", va="center", zorder=6)
    legend(axes[0], (0.807, 0.59, 0.375))
    legend(axes[1], (0.724, 0.508, 0.292))
    fig.text((COL_LEFT[col] + AX_W / 2) / W, 1 - (ROW_TOP[row] - 7) / H, TITLES[key], fontsize=14,
             color="#555555", ha="center", va="baseline")

fig.savefig("out.png", dpi=100)
